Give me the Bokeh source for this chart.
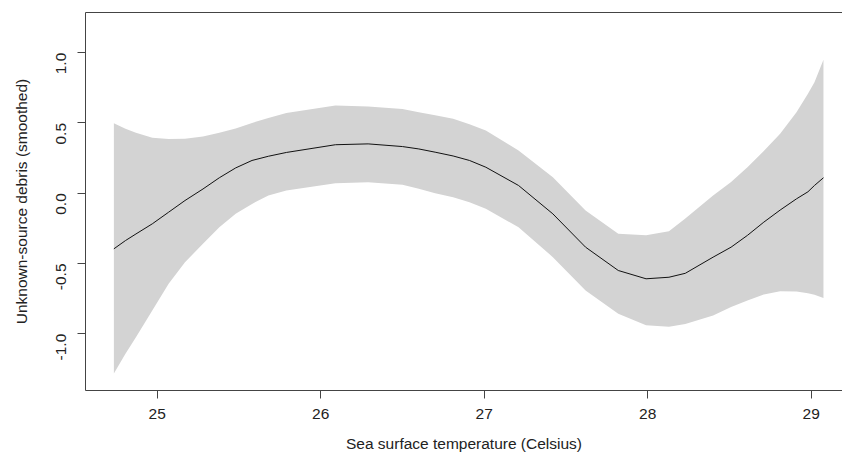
import math
from bokeh.plotting import figure
from bokeh.models import LinearAxis, FixedTicker, NumeralTickFormatter, Range1d
from bokeh.embed import file_html
from bokeh.resources import INLINE

# Sea surface temperature (Celsius)
sst = [24.735, 24.806, 24.87, 24.97, 25.07, 25.17, 25.28, 25.38, 25.48, 25.58,
       25.68, 25.79, 26.09, 26.29, 26.50, 26.60, 26.70, 26.81, 26.91, 27.01,
       27.21, 27.42, 27.62, 27.82, 27.99, 28.13, 28.23, 28.40, 28.51, 28.61,
       28.71, 28.81, 28.91, 28.98, 29.02, 29.075]
# smoothed effect
fit = [-0.396, -0.337, -0.29, -0.218, -0.135, -0.052, 0.03, 0.11, 0.18, 0.233,
       0.263, 0.29, 0.345, 0.351, 0.332, 0.315, 0.292, 0.265, 0.233, 0.185,
       0.055, -0.147, -0.384, -0.55, -0.609, -0.598, -0.57, -0.455, -0.384, -0.30,
       -0.206, -0.12, -0.04, 0.01, 0.055, 0.11]
# confidence band
upper = [0.498, 0.458, 0.43, 0.395, 0.385, 0.387, 0.404, 0.43, 0.46, 0.50,
         0.535, 0.57, 0.624, 0.617, 0.60, 0.577, 0.555, 0.53, 0.49, 0.446,
         0.304, 0.114, -0.123, -0.289, -0.30, -0.27, -0.18, -0.016, 0.08, 0.185,
         0.30, 0.423, 0.577, 0.707, 0.79, 0.95]
lower = [-1.283, -1.143, -1.025, -0.835, -0.645, -0.491, -0.36, -0.242, -0.147, -0.076,
         -0.016, 0.019, 0.071, 0.078, 0.06, 0.031, 0.0, -0.028, -0.065, -0.111,
         -0.242, -0.455, -0.693, -0.858, -0.94, -0.95, -0.93, -0.87, -0.81, -0.764,
         -0.72, -0.697, -0.70, -0.712, -0.723, -0.745]

x_ticks = [25, 26, 27, 28, 29]
y_ticks = [-1.0, -0.5, 0.0, 0.5, 1.0]

FONT = "Liberation Sans"
TXT = "#222222"
AX = "#444444"

p = figure(width=842, height=467, output_backend="svg", toolbar_location=None,
           x_range=Range1d(24.5615, 29.1914), y_range=Range1d(-1.404, 1.286),
           x_axis_label="Sea surface temperature (Celsius)",
           y_axis_label="Unknown-source debris (smoothed)",
           min_border_left=85, min_border_right=0, min_border_top=12, min_border_bottom=77)
p.outline_line_color = None
p.xgrid.grid_line_color = None
p.ygrid.grid_line_color = None

p.varea(x=sst, y1=lower, y2=upper, fill_color="#D3D3D3", fill_alpha=1.0)
p.line(x=sst, y=fit, line_color="#111111", line_width=1)

for ax in (p.xaxis[0], p.yaxis[0]):
    ax.axis_line_color = AX
    ax.major_tick_line_color = AX
    ax.major_tick_out = 8
    ax.major_tick_in = 0
    ax.minor_tick_line_color = None
    ax.major_label_text_font = FONT
    ax.major_label_text_font_size = "15.5px"
    ax.major_label_text_color = TXT
    ax.axis_label_text_font = FONT
    ax.axis_label_text_font_size = "15.5px"
    ax.axis_label_text_font_style = "normal"
    ax.axis_label_text_color = TXT

p.xaxis[0].ticker = FixedTicker(ticks=x_ticks)
p.xaxis[0].major_label_standoff = 10
p.xaxis[0].axis_label_standoff = 13

p.yaxis[0].ticker = FixedTicker(ticks=y_ticks)
p.yaxis[0].formatter = NumeralTickFormatter(format="0.0")
p.yaxis[0].major_label_orientation = math.pi / 2
p.yaxis[0].major_label_standoff = 16
p.yaxis[0].axis_label_standoff = 19

top = LinearAxis(ticker=FixedTicker(ticks=[]), axis_line_color=AX,
                 major_tick_line_color=None, minor_tick_line_color=None,
                 major_label_text_font_size="0px")
p.add_layout(top, "above")

open("out.html", "w").write(file_html(p, INLINE))
